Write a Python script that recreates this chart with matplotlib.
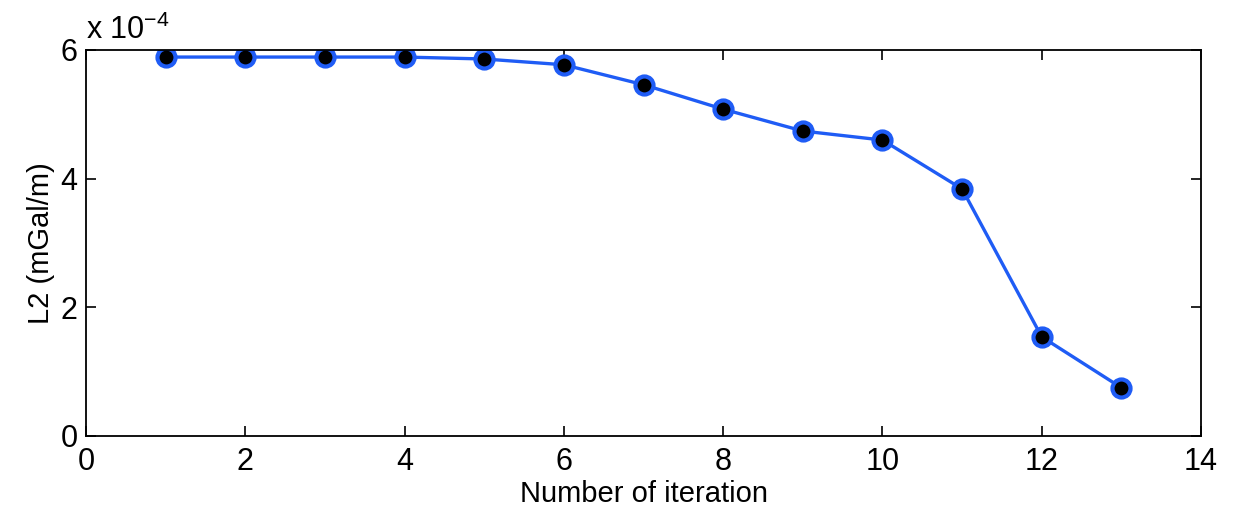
import matplotlib
matplotlib.use("Agg")
import matplotlib.pyplot as plt
from matplotlib.ticker import FuncFormatter

plt.rcParams['font.family'] = ['Liberation Sans', 'DejaVu Sans']

# iteration number vs L2 norm
iterations = [1, 2, 3, 4, 5, 6, 7, 8, 9, 10, 11, 12, 13]
l2_values = [5.89e-4, 5.89e-4, 5.89e-4, 5.89e-4, 5.86e-4, 5.77e-4, 5.46e-4,
             5.08e-4, 4.74e-4, 4.60e-4, 3.84e-4, 1.54e-4, 0.75e-4]

fig = plt.figure(figsize=(12.41, 5.19), dpi=100)
ax = fig.add_axes([0.0693, 0.160, 0.8985, 0.7437])

ax.plot(iterations, l2_values, color='#1f5cf5', linewidth=2.4,
        marker='o', markersize=13, markerfacecolor='black',
        markeredgecolor='#1f5cf5', markeredgewidth=3)

ax.set_xlim(0, 14)
ax.set_ylim(0, 6e-4)
ax.set_xticks(range(0, 15, 2))
ax.set_yticks([0, 2e-4, 4e-4, 6e-4])
ax.yaxis.set_major_formatter(FuncFormatter(lambda v, p: '%g' % round(v * 1e4, 6)))

ax.tick_params(direction='in', length=7, width=1.2, labelsize=22,
               top=True, right=True)
ax.tick_params(axis='x', pad=8)
ax.tick_params(axis='y', pad=6)
for s in ax.spines.values():
    s.set_linewidth(1.3)

ax.set_xlabel('Number of iteration', fontsize=21, labelpad=2)
ax.set_ylabel('L2 (mGal/m)', fontsize=21, labelpad=4)

ax.text(0.0, 1.01, r'x 10$^{\mathregular{-4}}$', transform=ax.transAxes,
        fontsize=22, ha='left', va='bottom')

fig.savefig('out.png', dpi=100)
